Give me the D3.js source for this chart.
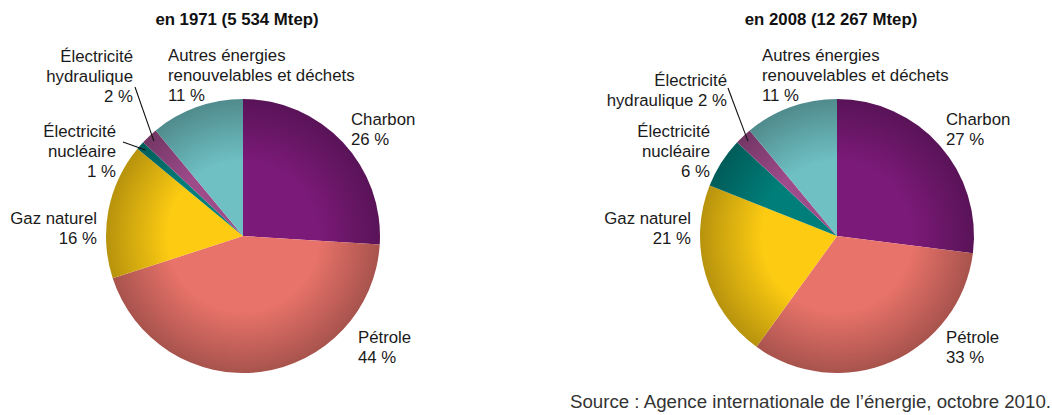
<!DOCTYPE html>
<html>
<head>
<meta charset="utf-8">
<script src="https://cdn.jsdelivr.net/npm/d3@7"></script>
<style>
  body { margin: 0; background: #fff; }
  svg { display: block; font-family: "Liberation Sans", Arial, sans-serif; }
</style>
</head>
<body>
<svg id="chart" width="1052" height="415"></svg>
<script>
// energy sources, clockwise from 12 o'clock
var sources = ["Charbon", "Pétrole", "Gaz naturel", "Électricité nucléaire", "Électricité hydraulique", "Autres énergies renouvelables et déchets"];
var colors = ["#7B1A78", "#E8736A", "#FCCB12", "#007F7A", "#9E4B8A", "#6EC0C3"];

var titles = ["en 1971 (5 534 Mtep)", "en 2008 (12 267 Mtep)"];
var values1971 = [26, 44, 16, 1, 2, 11];
var values2008 = [27, 33, 21, 6, 2, 11];

var labels1971 = [["Charbon", "26 %"], ["Pétrole", "44 %"], ["Gaz naturel", "16 %"],
    ["Électricité", "nucléaire", "1 %"], ["Électricité", "hydraulique", "2 %"],
    ["Autres énergies", "renouvelables et déchets", "11 %"]];
var labels2008 = [["Charbon", "27 %"], ["Pétrole", "33 %"], ["Gaz naturel", "21 %"],
    ["Électricité", "nucléaire", "6 %"], ["Électricité", "hydraulique 2 %"],
    ["Autres énergies", "renouvelables et déchets", "11 %"]];

var sourceNote = "Source : Agence internationale de l’énergie, octobre 2010.";

var radius = 137;
var lineH = 20;

// label anchors relative to pie centre: [dx, baseline dy, anchor, leader start or null]
var layout1971 = [
    [108, -111, "start", null],
    [115, 107, "start", null],
    [-146, -12, "end", null],
    [-127, -99, "end", [-120, -94]],
    [-110, -174, "end", [-108, -149]],
    [-75, -175, "start", null]
];
var layout2008 = [
    [109, -111, "start", null],
    [109, 107, "start", null],
    [-146, -12, "end", null],
    [-127, -99, "end", null],
    [-110, -150, "end", [-109, -148]],
    [-75, -175, "start", null]
];

var svg = d3.select("#chart");
var defs = svg.append("defs");

var pie = d3.pie().sort(null).value(function (d) { return d; });
var arc = d3.arc().innerRadius(0).outerRadius(radius);
var rimArc = d3.arc().innerRadius(radius * 0.95).outerRadius(radius * 0.95);

function drawPie(id, cx, cy, title, values, labels, layout) {
    var g = svg.append("g").attr("transform", "translate(" + cx + "," + cy + ")");

    colors.forEach(function (c, i) {
        var grad = defs.append("radialGradient")
            .attr("id", id + "-grad-" + i)
            .attr("gradientUnits", "userSpaceOnUse")
            .attr("cx", 0).attr("cy", 0).attr("r", radius);
        grad.append("stop").attr("offset", "0%").attr("stop-color", c);
        grad.append("stop").attr("offset", "55%").attr("stop-color", c);
        grad.append("stop").attr("offset", "100%").attr("stop-color", d3.color(c).darker(0.9));
    });

    var arcs = pie(values);

    g.selectAll("path")
        .data(arcs)
        .enter().append("path")
        .attr("d", arc)
        .attr("fill", function (d, i) { return "url(#" + id + "-grad-" + i + ")"; });

    svg.append("text")
        .attr("x", cx - 6)
        .attr("y", 25)
        .attr("text-anchor", "middle")
        .attr("font-weight", "bold")
        .attr("font-size", "16.8px")
        .attr("fill", "#111")
        .text(title);

    arcs.forEach(function (d, i) {
        var l = layout[i];
        var t = g.append("text")
            .attr("text-anchor", l[2])
            .attr("font-size", "16.8px")
            .attr("fill", "#1a1a1a");
        labels[i].forEach(function (line, k) {
            t.append("tspan")
                .attr("x", l[0])
                .attr("y", l[1] + k * lineH)
                .text(line);
        });
        if (l[3]) {
            var p = rimArc.centroid(d);
            g.append("line")
                .attr("x1", l[3][0]).attr("y1", l[3][1])
                .attr("x2", p[0]).attr("y2", p[1])
                .attr("stroke", "#111")
                .attr("stroke-width", 1.1);
        }
    });
}

drawPie("p1971", 243, 236, titles[0], values1971, labels1971, layout1971);
drawPie("p2008", 837, 236, titles[1], values2008, labels2008, layout2008);

svg.append("text")
    .attr("x", 1051)
    .attr("y", 408)
    .attr("text-anchor", "end")
    .attr("font-size", "18.7px")
    .attr("fill", "#333")
    .text(sourceNote);
</script>
</body>
</html>
